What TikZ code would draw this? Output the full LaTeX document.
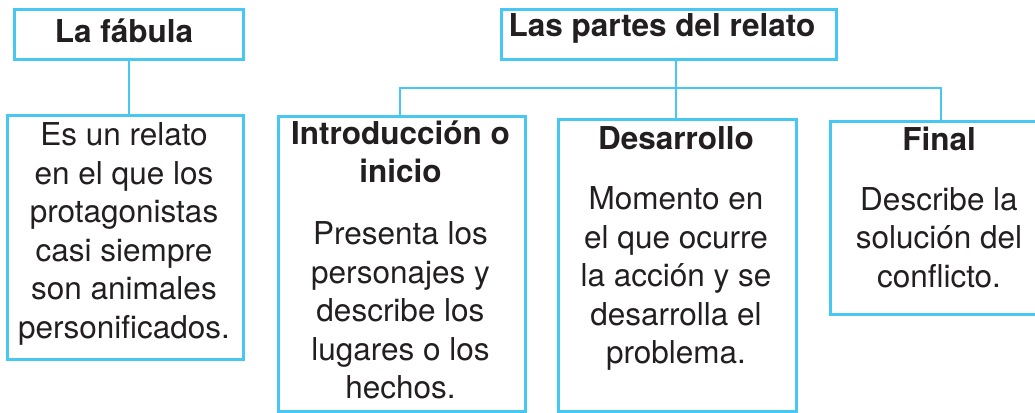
\documentclass[tikz,border=0pt]{standalone}
\usepackage{fontspec}
\setmainfont{TeX Gyre Heros}
\usepackage{xcolor}
\usepackage{tikz}
\usetikzlibrary{positioning,calc}
\definecolor{cyanline}{RGB}{70,200,242}
\definecolor{ink}{RGB}{35,31,32}
\tikzset{
  boxw/.style ={draw=cyanline, line width=2.8pt, inner sep=0pt, anchor=north west},
  ln/.style   ={draw=cyanline, line width=2.8pt},
  ttl/.style  ={font=\fontsize{31.5}{38.5}\selectfont\bfseries, text=ink, inner sep=0pt},
  txt/.style  ={font=\fontsize{31.5}{38.5}\selectfont, text=ink, align=center, inner sep=0pt},
}

\begin{document}
\begin{tikzpicture}[x=1pt,y=-1pt]
\useasboundingbox (0,0) rectangle (1035,412);
\clip (0,0) rectangle (1035,412);
% boxes
\node[boxw, minimum width=229pt, minimum height=50pt]  (fabula) at (13,8) {};
\node[boxw, minimum width=236pt, minimum height=244pt] (defin)  at (6,114) {};
\node[boxw, minimum width=335pt, minimum height=50pt]  (partes) at (500,8) {};
\node[boxw, minimum width=247pt, minimum height=295pt] (intro)  at (277,115) {};
\node[boxw, minimum width=238pt, minimum height=292pt] (desar)  at (557,118) {};
\node[boxw, minimum width=224pt, minimum height=193pt] (final)  at (829,120) {};

% connectors
\coordinate (bar) at (676,88);
\draw[ln] (fabula.south) -- (defin.north -| fabula.south);
\draw[ln] (partes.south -| bar) -- (desar.north -| bar);
\draw[ln] (intro.north -| 400,0) |- (bar) -| (final.north -| 941,0);

% texts
\node[ttl] (tfab) at (124,31) {La fábula};
\node[ttl] (tpar) at (662,28.5) {Las partes del relato};
\node[txt] (dfab) at (124,234) {Es un relato\\en el que los\\protagonistas\\casi siempre\\son animales\\personificados.};
\node[txt] (dint) at (400.5,260) {\textbf{Introducción o}\\\textbf{inicio}\\[23.5pt]Presenta los\\personajes y\\describe los\\lugares o los\\hechos.};
\node[txt] (ddes) at (676,248.5) {\textbf{Desarrollo}\\[21.5pt]Momento en\\el que ocurre\\la acción y se\\desarrolla el\\problema.};
\node[txt] (dfin) at (939,207) {\textbf{Final}\\[21.5pt]Describe la\\solución del\\conflicto.};
\end{tikzpicture}
\end{document}
